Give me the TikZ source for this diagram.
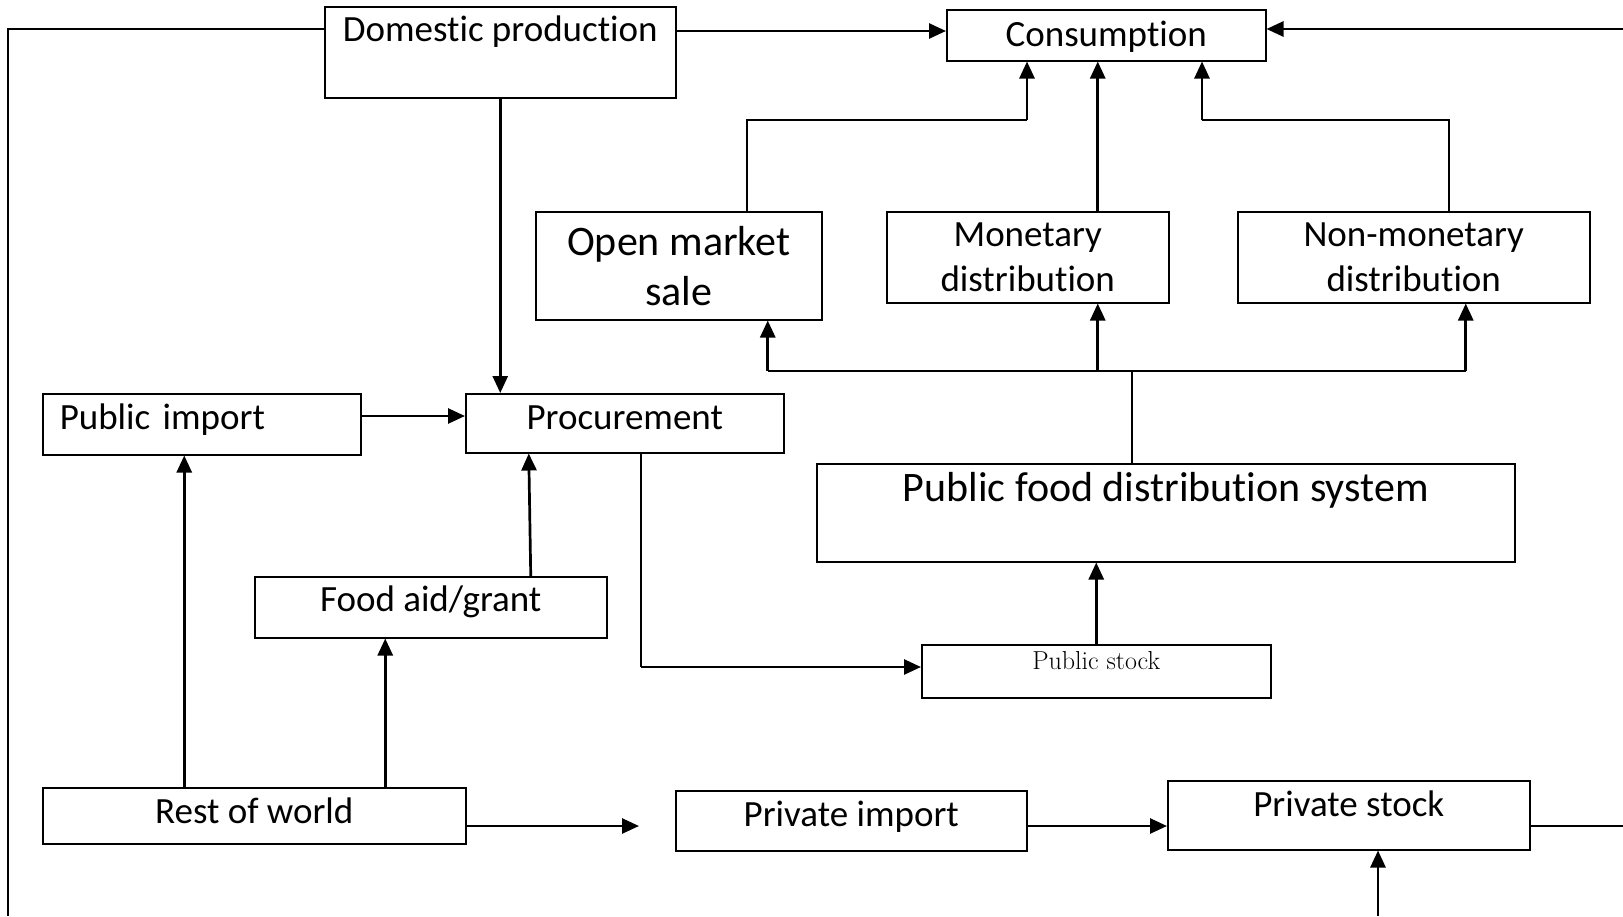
\documentclass[tikz,border=0pt]{standalone}
\usepackage{fontspec}
\usepackage{tikz}
\usetikzlibrary{arrows.meta}
\newfontfamily\calfont[Ligatures={NoCommon,NoContextual},RawFeature={-liga;-clig;-dlig}]{Carlito}

\begin{document}
\begin{tikzpicture}[x=1pt, y=-1pt,
  box/.style={draw, line width=1.5pt, inner sep=0pt, anchor=north west, font=\calfont\fontsize{37}{45}\selectfont},
  flow/.style={-{Triangle[length=17pt,width=15pt]}, line width=2.7pt},
  link/.style={line width=1.5pt}]
\useasboundingbox (0,0) rectangle (1623,916);
% Draw boxes
\node[box, minimum width=351pt, text height=35pt, text depth=56pt] (dom) at (324,6) {Domestic production};
\node[box, minimum width=319pt, text height=37pt, text depth=14pt] (cons) at (946,9) {Consumption};
\node[box, minimum width=286pt, minimum height=108pt, align=center, font=\calfont\fontsize{42}{50}\selectfont] (oms) at (535,211) {Open market\\sale};
\node[box, minimum width=282pt, minimum height=91pt, align=center] (mon) at (886,211) {Monetary\\distribution};
\node[box, minimum width=352pt, minimum height=91pt, align=center] (nmd) at (1237,211) {Non-monetary\\distribution};
\node[box, inner xsep=17pt, text width=284pt, align=left, text height=36pt, text depth=25pt] (pimp) at (42,393) {Public import};
\node[box, minimum width=318pt, text height=36pt, text depth=23pt] (proc) at (465,393) {Procurement};
\node[box, minimum width=698pt, text height=38pt, text depth=60pt, font=\calfont\fontsize{42}{50}\selectfont] (pfds) at (816,463) {Public food distribution system};
\node[box, minimum width=352pt, text height=35pt, text depth=26pt] (aid) at (254,576) {Food aid/grant};
\node[box, minimum width=349pt, text height=25pt, text depth=28pt, font=\fontsize{26}{30}\selectfont] (pstock) at (921,644) {Public stock};
\node[box, minimum width=423pt, text height=36pt, text depth=20pt] (row) at (42,787) {Rest of world};
\node[box, minimum width=351pt, text height=36pt, text depth=24pt] (privimp) at (675,790) {Private import};
\node[box, minimum width=362pt, text height=36pt, text depth=33pt] (privst) at (1167,780) {Private stock};
% Bends and free ends
\coordinate (rtop) at (1623,29);
\coordinate (lbot) at (8,916);
\coordinate (omsin) at (1027,120);
\coordinate (nmdin) at (1202,120);
\coordinate (omsout) at ([xshift=89pt]oms.south);
\coordinate (monout) at ([xshift=70pt]mon.south);
\coordinate (nmdout) at ([xshift=52pt]nmd.south);
\coordinate (pbend) at (641,667);
\coordinate (rowend) at (639,826);
\coordinate (rbot) at (1623,826);
\coordinate (bot) at (1378,916);
% Draw flows into consumption
\draw[link] (dom.west |- rtop) -| (lbot);
\draw[flow] (dom.east |- 0,31) -- (cons.west |- 0,31);
\draw[flow] (rtop) -- (cons.east |- rtop);
\draw[link] ([xshift=68pt]oms.north) |- (omsin);
\draw[flow] (omsin) -- (omsin |- cons.south);
\draw[flow] ([xshift=70pt]mon.north) -- ([xshift=70pt]mon.north |- cons.south);
\draw[link] ([xshift=35pt]nmd.north) |- (nmdin);
\draw[flow] (nmdin) -- (nmdin |- cons.south);
% Draw distribution from PFDS
\draw[link] ([xshift=-34pt]pfds.north) -- ++(0,-92) coordinate (hub);
\draw[link] (omsout |- hub) -- (nmdout |- hub);
\foreach \out in {omsout,monout,nmdout}
    \draw[flow] (\out |- hub) -- (\out);
% Draw flows into procurement
\draw[flow] (dom.south) -- (dom.south |- proc.north);
\draw[flow] (pimp.east |- 0,416) -- (proc.west |- 0,416);
\draw[flow] ([xshift=-70pt]row.north) -- ([xshift=-70pt]row.north |- pimp.south);
\draw[flow] ([xshift=131pt]row.north) -- ([xshift=131pt]row.north |- aid.south);
\draw[flow] ([xshift=100pt]aid.north) -- ([xshift=-96pt]proc.south);
\draw[link] (pbend |- proc.south) -- (pbend);
\draw[flow] (pbend) -- (pstock.west |- pbend);
\draw[flow] (pstock.north) -- (pstock.north |- pfds.south);
% Draw private flows
\draw[flow] (row.east |- rowend) -- (rowend);
\draw[flow] (privimp.east |- rowend) -- (privst.west |- rowend);
\draw[link] (privst.east |- rbot) -- (rbot);
\draw[flow] (bot) -- (bot |- privst.south);
\end{tikzpicture}
\end{document}
